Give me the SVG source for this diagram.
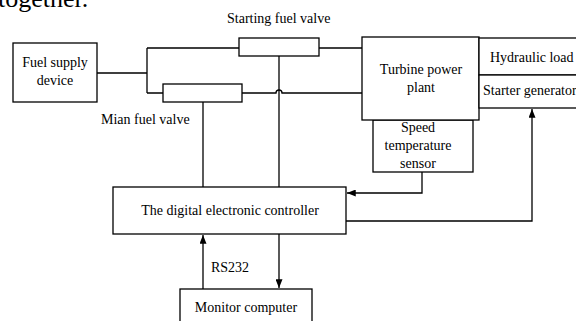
<svg xmlns="http://www.w3.org/2000/svg" width="576" height="321" viewBox="0 0 576 321">
<style>
.box{fill:#fff;stroke:#000;stroke-width:1.3}
.ln{fill:none;stroke:#000;stroke-width:1.3}
text{font-family:"Liberation Serif","Times New Roman",serif;font-size:14px;fill:#000}
.c{text-anchor:middle}
</style>
<defs>
<marker id="ah" viewBox="0 0 10 8" refX="10" refY="4" markerWidth="9" markerHeight="7" markerUnits="userSpaceOnUse" orient="auto">
<path d="M0,0 L10,4 L0,8 Z" fill="#000"/>
</marker>
</defs>
<text x="-2" y="7" style="font-size:26px">together.</text>
<g id="connectors">
<path class="ln" d="M97,73 H147 M147,48 V93 M147,48 H239 M147,93 H163"/>
<path class="ln" d="M319,48 H362"/>
<path class="ln" d="M242,93 H276 A3,3 0 0 1 282,93 H362"/>
<path class="ln" d="M279,56 V187"/>
<path class="ln" d="M203,102 V187"/>
<path class="ln" d="M422,172 V193 H347" marker-end="url(#ah)"/>
<path class="ln" d="M346,221 H532 V109" marker-end="url(#ah)"/>
<path class="ln" d="M203,289 V235" marker-end="url(#ah)"/>
<path class="ln" d="M279,234 V288" marker-end="url(#ah)"/>
</g>
<g id="fuel-supply">
<rect class="box" x="13" y="43" width="84" height="59"/>
<text class="c" x="55" y="67">Fuel supply</text>
<text class="c" x="55" y="85">device</text>
</g>
<g id="starting-valve">
<rect class="box" x="239" y="38" width="80" height="18"/>
<text x="227" y="23">Starting fuel valve</text>
</g>
<g id="main-valve">
<rect class="box" x="163" y="84" width="79" height="18"/>
<text x="101" y="124">Mian fuel valve</text>
</g>
<g id="sensor">
<rect class="box" x="373" y="120" width="100" height="52"/>
<text class="c" x="418" y="132">Speed</text>
<text class="c" x="418" y="150">temperature</text>
<text class="c" x="418" y="168">sensor</text>
</g>
<g id="turbine">
<rect class="box" x="362" y="37" width="117" height="83"/>
<text class="c" x="421" y="74">Turbine power</text>
<text class="c" x="421" y="92">plant</text>
</g>
<g id="hydraulic-load">
<rect class="box" x="479" y="38" width="110" height="37"/>
<text x="490" y="62">Hydraulic load</text>
</g>
<g id="starter-generator">
<rect class="box" x="479" y="75" width="110" height="33"/>
<text x="483" y="95">Starter generator</text>
</g>
<g id="controller">
<rect class="box" x="113" y="187" width="233" height="47"/>
<text class="c" x="230" y="215">The digital electronic controller</text>
</g>
<g id="rs232-label">
<text x="211" y="272">RS232</text>
</g>
<g id="monitor">
<rect class="box" x="180" y="289" width="132" height="40"/>
<text class="c" x="246" y="312">Monitor computer</text>
</g>
</svg>
